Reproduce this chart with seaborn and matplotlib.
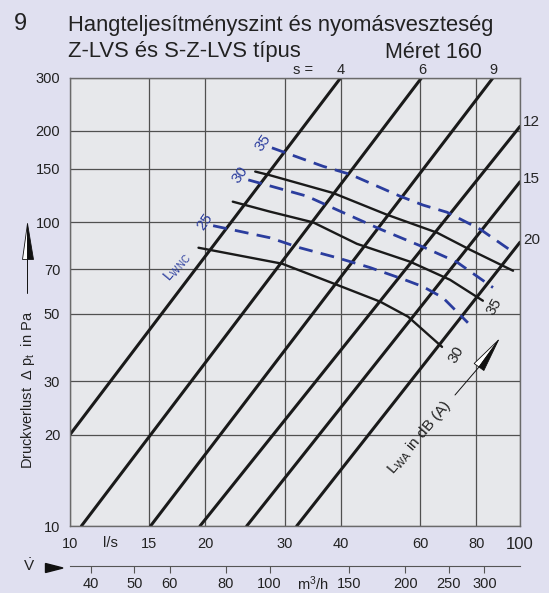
import numpy as np
import pandas as pd
import seaborn as sns
import matplotlib.pyplot as plt
from matplotlib.ticker import NullLocator, FixedLocator, FixedFormatter
from matplotlib.patches import Polygon
from matplotlib.lines import Line2D

W, H = 549, 593

# Kennlinien der Klappenstellung s (Endpunkte in l/s und Pa)
s_labels = ['4', '6', '9', '12', '15', '20']
s_v_start = [10, 10.6, 15.1, 19.45, 24.7, 31.9]
s_p_start = [20, 10, 10, 10, 10, 10]
s_v_end = [40, 60.5, 87.2, 100, 100, 100]
s_p_end = [300, 300, 300, 207, 136, 86]

# Schallleistungspegel L_WA (schwarz)
lwa_names = ['40', '35', '30']
lwa_v = [[25.8, 27.8, 38.4, 50.6, 65.4, 77.4, 96.5],
         [23.0, 27.8, 34.7, 43.4, 57.0, 69.9, 82.7],
         [19.3, 29.6, 39.5, 48.9, 56.4, 67.1]]
lwa_p = [[147, 143, 125, 106, 92.5, 81.3, 69.3],
         [117, 108.5, 100, 85, 74.2, 64.7, 55.2],
         [82.5, 73.1, 62.0, 54.8, 48.9, 38.9]]

# L_WNC (blau gestrichelt)
lwnc_names = ['35', '30', '25']
lwnc_v = [[28.1, 36.5, 41.9, 54.1, 60.9, 68.8, 81.5, 97.5],
          [24.9, 28.8, 33.6, 39.2, 48.9, 60.9, 72.4, 87.1],
          [20.8, 27.8, 32.4, 39.2, 46.4, 55.0, 60.9, 67.4, 76.6]]
lwnc_p = [[176, 153, 144, 122, 114, 108, 95, 79],
          [138, 130, 122, 110, 95, 83, 74, 61],
          [97.5, 89, 82.5, 76.5, 71, 65, 61.4, 56.5, 46.7]]

x_ticks = [10, 15, 20, 30, 40, 60, 80, 100]
y_ticks = [10, 20, 30, 50, 70, 100, 150, 200, 300]
m3h_ticks = [40, 50, 60, 80, 100, 150, 200, 250, 300]

blue = '#2b3d9e'
fig_bg = '#e0e0f0'
ax_bg = '#e7e8eb'

sns.set_theme(style='white')
plt.rcParams['font.family'] = ['Liberation Sans', 'DejaVu Sans']
plt.rcParams['mathtext.default'] = 'regular'

fig = plt.figure(figsize=(W / 100, H / 100), dpi=100, facecolor=fig_bg)
ax = fig.add_axes([70 / W, 1 - 526 / H, 450 / W, 448.5 / H])
ax.set_facecolor(ax_bg)

# Daten in lange Tabellen
s_df = pd.DataFrame({
    'curve': np.repeat(s_labels, 2),
    'V': np.ravel(np.column_stack([s_v_start, s_v_end])),
    'dp': np.ravel(np.column_stack([s_p_start, s_p_end])),
})
lwa_df = pd.concat([pd.DataFrame({'curve': n, 'V': v, 'dp': p})
                    for n, v, p in zip(lwa_names, lwa_v, lwa_p)])
lwnc_df = pd.concat([pd.DataFrame({'curve': n, 'V': v, 'dp': p})
                     for n, v, p in zip(lwnc_names, lwnc_v, lwnc_p)])

ax.set_xscale('log')
ax.set_yscale('log')

sns.lineplot(data=s_df, x='V', y='dp', units='curve', estimator=None, sort=False,
             color='#1a1a1a', lw=2.2, ax=ax)
sns.lineplot(data=lwa_df, x='V', y='dp', units='curve', estimator=None, sort=False,
             color='#1a1a1a', lw=1.7, ax=ax)
sns.lineplot(data=lwnc_df, x='V', y='dp', units='curve', estimator=None, sort=False,
             color=blue, lw=2.0, linestyle=(0, (5, 3)), ax=ax)

ax.set_xlim(10, 100)
ax.set_ylim(10, 300)
ax.set_xlabel('')
ax.set_ylabel('')

ax.xaxis.set_major_locator(FixedLocator(x_ticks))
ax.xaxis.set_minor_locator(NullLocator())
ax.yaxis.set_major_locator(FixedLocator(y_ticks))
ax.yaxis.set_minor_locator(NullLocator())
ax.xaxis.set_major_formatter(FixedFormatter([str(t) for t in x_ticks]))
ax.yaxis.set_major_formatter(FixedFormatter([str(t) for t in y_ticks]))
ax.tick_params(axis='both', length=0, labelsize=10.5, colors='#222222')
ax.tick_params(axis='x', pad=8)
ax.tick_params(axis='y', pad=7)
ax.get_xticklabels()[-1].set_fontsize(12)
ax.grid(True, color='#505050', lw=0.9)
ax.set_axisbelow(True)
for sp in ax.spines.values():
    sp.set_color('#6a6a6a')
    sp.set_linewidth(1.0)

# zweite Achse in m3/h
sec = ax.secondary_xaxis((526 - 566) / 448.5,
                         functions=(lambda v: v * 3.6, lambda m: m / 3.6))
sec.set_xticks(m3h_ticks)
sec.xaxis.set_minor_locator(NullLocator())
sec.set_xticklabels([str(t) for t in m3h_ticks])
sec.tick_params(axis='x', direction='out', length=5, width=0.8, color='#555555',
                labelsize=10.5, pad=3, labelcolor='#222222')
sec.spines['bottom'].set_color('#555555')
sec.spines['bottom'].set_linewidth(0.8)


def ptext(x, y, s, **kw):
    kw.setdefault('ha', 'center')
    kw.setdefault('va', 'center')
    return fig.text(x / W, 1 - y / H, s, **kw)


def fpt(x, y):
    return (x / W, 1 - y / H)


# Titel
ptext(14, 30, '9', fontsize=17, ha='left', va='baseline', color='#222222')
ptext(68, 30.5, 'Hangteljesítményszint és nyomásveszteség', fontsize=15.8,
      ha='left', va='baseline', color='#222222')
ptext(68, 57.5, 'Z-LVS és S-Z-LVS típus', fontsize=15.8, ha='left', va='baseline',
      color='#222222')
ptext(385, 57.5, 'Méret 160', fontsize=15.5, ha='left', va='baseline', color='#222222')

# Beschriftung der s-Linien
ptext(303, 70, 's =', fontsize=10.5)
for lab, x in zip(['4', '6', '9'], [341, 422, 493]):
    ptext(x, 70, lab, fontsize=10.5)
for lab, y in zip(['12', '15', '20'], [122, 179, 240]):
    ptext(523, y, lab, fontsize=11, ha='left')

# Kurvenbeschriftungen
for lab, (x, y) in zip(lwnc_names, [(263, 143), (240, 175), (205, 222)]):
    ptext(x, y, lab, fontsize=11, color=blue, rotation=55)
ptext(177, 267, r'$L_{WNC}$', fontsize=10, color=blue, rotation=50)
ptext(494, 307, '35', fontsize=11, rotation=60, color='#222222')
ptext(456, 355, '30', fontsize=11, rotation=60, color='#222222')
ptext(419, 437, r'$L_{WA}$ in dB (A)', fontsize=11, rotation=50, color='#222222')

# y-Beschriftung mit Pfeil
ptext(28, 390, r'Druckverlust  $\Delta$ p$_t$  in Pa', fontsize=10.5, rotation=90,
      color='#222222')


def arrowhead(tip, base, hw):
    # linke Hälfte weiß, rechte Hälfte schwarz (in Pfeilrichtung gesehen)
    tip = np.array(tip, float)
    base = np.array(base, float)
    d = tip - base
    n = np.array([d[1], -d[0]]) / np.hypot(*d) * hw
    white_side = base + n
    black_side = base - n
    fig.patches.append(Polygon([fpt(*tip), fpt(*base), fpt(*white_side)], closed=True,
                               facecolor='white', edgecolor='#111111', lw=0.6,
                               transform=fig.transFigure))
    fig.patches.append(Polygon([fpt(*tip), fpt(*base), fpt(*black_side)], closed=True,
                               facecolor='#111111', edgecolor='#111111', lw=0.6,
                               transform=fig.transFigure))


fig.lines.append(Line2D(*zip(fpt(27.3, 293), fpt(27.3, 259)), color='#111111', lw=0.7,
                        transform=fig.transFigure))
arrowhead((27.3, 223), (27.3, 259), 5.5)

fig.lines.append(Line2D(*zip(fpt(455, 395), fpt(479, 367)), color='#111111', lw=0.7,
                        transform=fig.transFigure))
arrowhead((498.5, 340), (479, 367), 6)

# Volumenstrom
ptext(110, 543, 'l/s', fontsize=10.5, color='#222222')
ptext(313, 584, r'm$^3$/h', fontsize=10.5, color='#222222')
ptext(29.5, 566, r'$\dot{V}$', fontsize=11, color='#222222')
fig.patches.append(Polygon([fpt(45.5, 563.5), fpt(45.5, 572.5), fpt(63, 568)], closed=True,
                           facecolor='#111111', edgecolor='#111111',
                           transform=fig.transFigure))

fig.savefig('out.png', dpi=100, facecolor=fig_bg)
